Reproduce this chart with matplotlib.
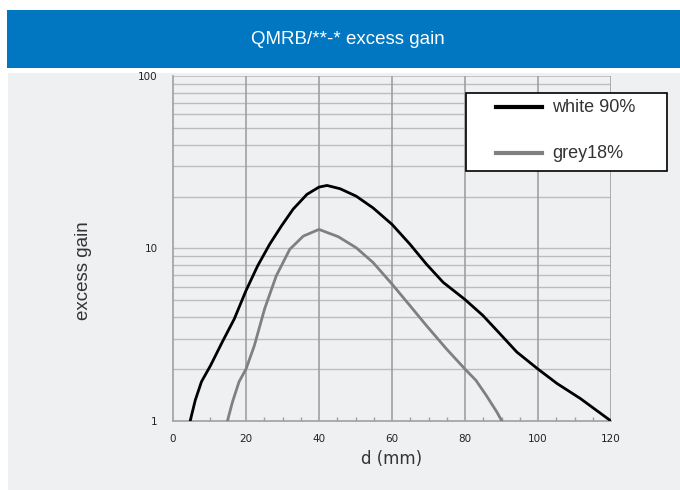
import numpy as np
import matplotlib.pyplot as plt
from matplotlib.patches import Rectangle
from matplotlib.lines import Line2D

# values
d_white = [4.7, 6.1, 7.8, 10.3, 13.5, 16.8, 20, 23.2, 26.5, 29.7, 32.9, 36.7, 40, 42.2,
           45.8, 50.2, 54.8, 60, 64.9, 69.4, 74, 80, 84.9, 89.6, 94.2, 100, 105.2, 111.6, 120]
g_white = [1.0, 1.32, 1.69, 2.10, 2.87, 3.91, 5.70, 7.94, 10.6, 13.5, 16.9, 20.6, 22.7, 23.2,
           22.2, 20.1, 17.2, 13.8, 10.6, 8.13, 6.37, 5.06, 4.09, 3.2, 2.51, 2.0, 1.65, 1.35, 1.0]
d_grey = [14.9, 16.3, 18.1, 20, 22.3, 25.1, 28.3, 32, 35.7, 40, 45.3, 50.2, 54.8, 60,
          64.9, 69.4, 74.9, 80, 83, 85.8, 88.7, 90.1]
g_grey = [1.0, 1.29, 1.69, 2.0, 2.74, 4.47, 6.95, 9.9, 11.8, 12.9, 11.7, 10.1, 8.3, 6.22,
          4.67, 3.58, 2.62, 2.0, 1.72, 1.41, 1.13, 1.0]
x_ticks = [0, 20, 40, 60, 80, 100, 120]
y_ticks = [1, 10, 100]
labels = ['white 90%', 'grey18%']

blue = '#0077c0'
panel = '#eff0f2'
gridc = '#a0a0a0'

fw, fh = 6.8, 4.9
fig = plt.figure(figsize=(fw, fh), dpi=100)
fig.patch.set_facecolor('white')

# title banner and grey panel
fig.add_artist(Rectangle((7/680, 1-68/490), 673/680, 58/490, transform=fig.transFigure,
                         facecolor=blue, edgecolor='none', zorder=0))
fig.add_artist(Rectangle((8/680, 0), 672/680, 1-73/490, transform=fig.transFigure,
                         facecolor=panel, edgecolor='none', zorder=0))
fig.text(348/680, 1-39/490, 'QMRB/**-* excess gain', color='white', fontsize=13.5,
         ha='center', va='center', family='Liberation Sans')

ax = fig.add_axes([173/680, 1-421/490, 438/680, 345/490])
ax.set_facecolor(panel)
ax.set_yscale('log')
ax.set_xlim(0, 120)
ax.set_ylim(1, 100)

# grid
for dec in [1, 10]:
    for m in range(2, 10):
        ax.axhline(dec*m, color='#bdbdbd', lw=1.0, zorder=1)
ax.axhline(10, color='#bdbdbd', lw=1.0, zorder=1)
ax.axhline(100, color='#bdbdbd', lw=1.2, zorder=1)
for xv in x_ticks[1:]:
    ax.axvline(xv, color=gridc, lw=1.2, zorder=1)

ax.plot(d_white, g_white, color='black', lw=2.0, zorder=3, solid_joinstyle='round')
ax.plot(d_grey, g_grey, color='#808080', lw=2.0, zorder=3, solid_joinstyle='round')

for s in ['top', 'right']:
    ax.spines[s].set_visible(False)
for s in ['left', 'bottom']:
    ax.spines[s].set_color(gridc)
    ax.spines[s].set_linewidth(1.2)

ax.set_xticks(x_ticks)
ax.set_xticks(np.arange(0, 121, 5), minor=True)
ax.set_yticks(y_ticks)
ax.set_yticklabels(['1', '10', '100'])
ax.yaxis.set_minor_locator(plt.NullLocator())
ax.tick_params(axis='x', which='major', length=0, pad=9, labelsize=7.5, labelcolor='#222222')
ax.tick_params(axis='x', which='minor', direction='in', length=3, color=gridc, width=1)
ax.tick_params(axis='y', which='major', length=0, pad=11, labelsize=7.5, labelcolor='#222222')
ax.set_xlabel('d (mm)', fontsize=12, color='#333333', labelpad=5)
fig.text(83/680, 1-271/490, 'excess gain', rotation=90, fontsize=13.5, color='#333333',
         ha='center', va='center', family='Liberation Sans')

# legend box
lx0, ly0, lx1, ly1 = 466, 93, 667, 171
fig.add_artist(Rectangle((lx0/680, 1-ly1/490), (lx1-lx0)/680, (ly1-ly0)/490,
                         transform=fig.transFigure, facecolor='white', edgecolor='black',
                         lw=1.2, zorder=5))
for yy, col, lab in [(107, 'black', labels[0]), (153, '#808080', labels[1])]:
    fig.add_artist(Line2D([496/680, 542/680], [1-yy/490, 1-yy/490], transform=fig.transFigure,
                          color=col, lw=3, zorder=6))
    fig.text(552/680, 1-yy/490, lab, fontsize=13, color='#333333', va='center',
             family='Liberation Sans', zorder=6)

plt.savefig('out.png', dpi=100)
